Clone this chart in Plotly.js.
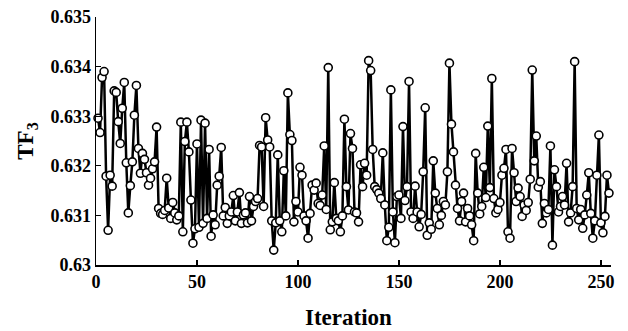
<!DOCTYPE html>
<html>
<head>
<meta charset="utf-8">
<script src="https://cdn.plot.ly/plotly-3.0.1.min.js"></script>
<style>
html,body{margin:0;padding:0;background:#fff;}
#chart{width:628px;height:331px;}
</style>
</head>
<body>
<div id="chart"></div>
<script>
// TF3 values per iteration (starting at iteration 1)
var tf3 = [
0.63296,0.63267,0.63378,0.63390,0.63179,0.63070,0.63181,0.63159,0.63351,0.63348,
0.63289,0.63245,0.63316,0.63368,0.63206,0.63105,0.63160,0.63208,0.63302,0.63362,
0.63235,0.63185,0.63225,0.63213,0.63186,0.63161,0.63175,0.63194,0.63208,0.63278,
0.63114,0.63104,0.63102,0.63110,0.63175,0.63115,0.63094,0.63126,0.63105,0.63091,0.63099,
0.63288,0.63067,0.63249,0.63288,0.63228,0.63131,0.63044,0.63073,0.63244,0.63076,
0.63292,0.63084,0.63286,0.63094,0.63233,0.63058,0.63101,0.63081,0.63161,0.63179,
0.63237,0.63099,0.63116,0.63084,0.63099,0.63107,0.63140,0.63089,0.63107,0.63146,
0.63084,0.63101,0.63105,0.63085,0.63138,0.63089,0.63118,0.63128,0.63134,0.63241,
0.63238,0.63118,0.63297,0.63252,0.63238,0.63089,0.63030,0.63085,0.63222,0.63089,
0.63067,0.63190,0.63099,0.63347,0.63263,0.63251,0.63087,0.63128,0.63107,0.63197,
0.63181,0.63099,0.63089,0.63054,0.63104,0.63161,0.63151,0.63165,0.63124,0.63120,
0.63141,0.63240,0.63112,0.63398,0.63071,0.63087,0.63166,0.63094,0.63089,0.63067,
0.63099,0.63294,0.63158,0.63111,0.63265,0.63235,0.63107,0.63105,0.63087,0.63202,
0.63158,0.63205,0.63181,0.63412,0.63392,0.63233,0.63158,0.63152,0.63145,0.63134,0.63226,
0.63121,0.63049,0.63076,0.63353,0.63107,0.63045,0.63138,0.63141,0.63094,0.63279,
0.63130,0.63158,0.63370,0.63107,0.63094,0.63159,0.63107,0.63077,0.63102,0.63188,
0.63317,0.63060,0.63085,0.63072,0.63210,0.63145,0.63114,0.63081,0.63100,0.63128,0.63121,
0.63188,0.63407,0.63284,0.63228,0.63161,0.63114,0.63089,0.63128,0.63145,0.63087,
0.63114,0.63099,0.63081,0.63049,0.63225,0.63145,0.63103,0.63118,0.63197,0.63136,
0.63280,0.63156,0.63376,0.63134,0.63105,0.63112,0.63126,0.63181,0.63195,0.63233,
0.63067,0.63054,0.63235,0.63186,0.63128,0.63155,0.63138,0.63098,0.63121,0.63110,
0.63126,0.63173,0.63393,0.63210,0.63260,0.63157,0.63168,0.63084,0.63124,0.63105,
0.63112,0.63240,0.63040,0.63192,0.63158,0.63107,0.63118,0.63138,0.63121,0.63205,
0.63087,0.63105,0.63158,0.63410,0.63114,0.63091,0.63112,0.63074,0.63101,0.63141,
0.63186,0.63104,0.63054,0.63089,0.63181,0.63262,0.63085,0.63065,0.63098,0.63181,
0.63145
];
var iterations = tf3.map(function(v, i){ return i + 1; });

var xTickVals = [0, 50, 100, 150, 200, 250];
var xTickText = ["0", "50", "100", "150", "200", "250"];
var yTickVals = [0.630, 0.631, 0.632, 0.633, 0.634, 0.635];
var yTickText = ["0.63", "0.631", "0.632", "0.633", "0.634", "0.635"];

var fontFam = '"Liberation Serif", "Times New Roman", serif';

var trace = {
  x: iterations,
  y: tf3,
  type: 'scatter',
  mode: 'lines+markers',
  line: {color: '#000', width: 2.5},
  marker: {symbol: 'circle', size: 8, color: '#fff', line: {color: '#000', width: 1.6}},
  cliponaxis: false,
  hoverinfo: 'skip'
};

var layout = {
  width: 628, height: 331,
  margin: {l: 96, r: 17, t: 17, b: 66},
  paper_bgcolor: '#fff', plot_bgcolor: '#fff',
  showlegend: false,
  font: {family: fontFam, color: '#000'},
  xaxis: {
    range: [0, 255],
    tickvals: xTickVals,
    ticktext: xTickText,
    ticks: 'inside', ticklen: 5, tickwidth: 1.2, tickcolor: '#000',
    showline: true, linecolor: '#000', linewidth: 1.5,
    showgrid: false, zeroline: false,
    tickfont: {family: fontFam, size: 18, color: '#000', weight: 'bold'}
  },
  yaxis: {
    range: [0.630, 0.635],
    tickvals: yTickVals,
    ticktext: yTickText,
    ticks: 'inside', ticklen: 5, tickwidth: 1.2, tickcolor: '#000',
    showline: true, linecolor: '#000', linewidth: 1.5,
    showgrid: false, zeroline: false,
    tickfont: {family: fontFam, size: 18, color: '#000', weight: 'bold'},
    title: {text: '<b>TF<sub>3</sub></b>', font: {family: fontFam, size: 23, color: '#000'}, standoff: 10}
  },
  annotations: [{
    xref: 'x', yref: 'paper', x: xTickVals[xTickVals.length - 1] / 2, y: 0,
    yanchor: 'top', xanchor: 'center', yshift: -38,
    showarrow: false,
    text: '<b>Iteration</b>',
    font: {family: fontFam, size: 23, color: '#000'}
  }]
};

Plotly.newPlot('chart', [trace], layout, {staticPlot: true, displayModeBar: false});
</script>
</body>
</html>
